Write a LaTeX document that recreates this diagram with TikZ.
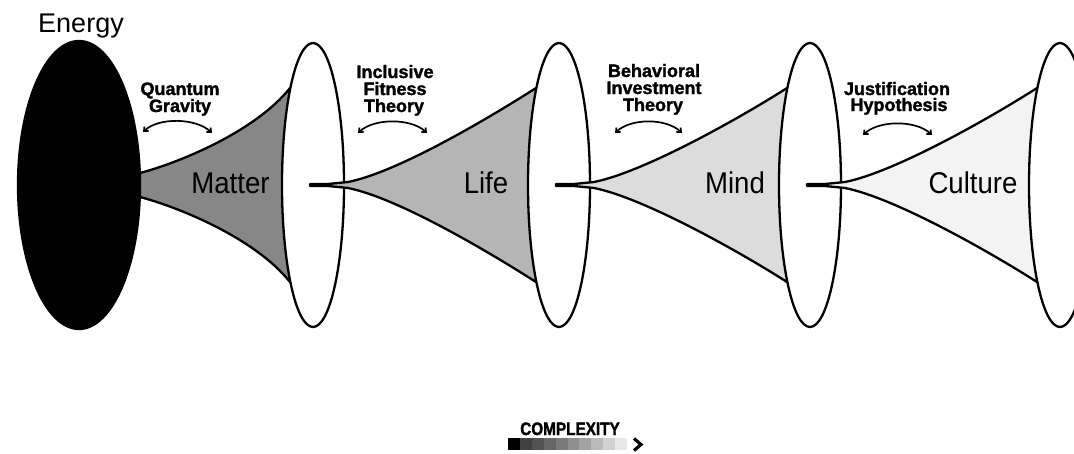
\documentclass[tikz,border=0pt]{standalone}
\usepackage{fontspec}
\setmainfont{Liberation Sans}
\newfontfamily\bigfont[FakeStretch=0.92]{Liberation Sans}
\newfontfamily\heavyfont[FakeBold=1.6]{Liberation Sans}
\newfontfamily\condfont[FakeStretch=0.85,FakeBold=1.6]{Liberation Sans}
\usetikzlibrary{arrows.meta}
\definecolor{matterc}{HTML}{878787}
\definecolor{lifec}{HTML}{B5B5B5}
\definecolor{mindc}{HTML}{DCDCDC}
\definecolor{culturec}{HTML}{F3F3F3}
\newcommand\hornshape[3]{%
  \filldraw[outl, fill=#3] ({#1-3},184) -- ({#1+15},184) -- ({#1+35},182)
    .. controls ({#1+85},172) and ({#2-70},118) .. ({#2-23},88)
    -- ({#2-23},282)
    .. controls ({#2-70},252) and ({#1+85},198) .. ({#1+35},188)
    -- ({#1+15},186) -- ({#1-3},186) -- cycle;}
\newcommand\mouth[1]{%
  \filldraw[outl, fill=white] (#1,185) ellipse [x radius=31pt, y radius=142pt];}
\begin{document}
\begin{tikzpicture}[x=1pt,y=-1pt,
  outl/.style={line width=2.3pt, line join=round},
  big/.style={font=\bigfont\fontsize{30}{30}\selectfont, anchor=base, inner sep=0pt},
  small/.style={font=\heavyfont\bfseries\fontsize{18}{18}\selectfont, anchor=base, inner sep=0pt},
  swing/.style={line width=1.7pt, {Straight Barb[length=3.5pt,width=6pt]}-{Straight Barb[length=3.5pt,width=6pt]}},
]
\useasboundingbox (0,0) rectangle (1074,453);
\clip (0,0) rectangle (1074,453);

% horn 1 (Matter) from Energy
\filldraw[outl, fill=matterc] (120,173) -- (140,173)
  .. controls (178,163) and (255,132) .. (290,88)
  -- (290,282)
  .. controls (255,238) and (178,207) .. (140,197) -- (120,197) -- cycle;
% Energy
\filldraw[outl, fill=black] (79,185) ellipse [x radius=61pt, y radius=144pt];
\mouth{313}
\hornshape{313}{559}{lifec}
\mouth{559}
\hornshape{559}{810}{mindc}
\mouth{810}
\hornshape{810}{1060}{culturec}
\mouth{1060}

% big labels
\node[font=\fontsize{27}{27}\selectfont, anchor=base, inner sep=0pt] (energy) at (81,32) {Energy};
\node[big] (matter) at (230.5,193) {Matter};
\node[big] (life) at (486,193) {Life};
\node[big] (mind) at (735,193) {Mind};
\node[big] (culture) at (973,193) {Culture};

% small labels
\node[small] (qg1) at (180,95) {Quantum};
\node[small] (qg2) at (180,112) {Gravity};
\node[small] (if1) at (395,78) {Inclusive};
\node[small] (if2) at (395,95) {Fitness};
\node[small] (if3) at (394,112) {Theory};
\node[small] (bi1) at (654,77) {Behavioral};
\node[small] (bi2) at (654,94) {Investment};
\node[small] (bi3) at (653,111) {Theory};
\node[small] (jh1) at (897,95) {Justification};
\node[small] (jh2) at (899,111) {Hypothesis};

% swing arrows
\coordinate (qgL) at (143,132); \coordinate (qgR) at (212,133);
\coordinate (ifL) at (358,133); \coordinate (ifR) at (427,133);
\coordinate (biL) at (615,133); \coordinate (biR) at (682,133);
\coordinate (jhL) at (863,135); \coordinate (jhR) at (932,135);
\draw[swing] (qgL) .. controls +(16,-15) and +(-16,-15) .. (qgR);
\draw[swing] (ifL) .. controls +(16,-15) and +(-16,-15) .. (ifR);
\draw[swing] (biL) .. controls +(16,-15) and +(-16,-15) .. (biR);
\draw[swing] (jhL) .. controls +(16,-15) and +(-16,-15) .. (jhR);

% complexity scale
\node[font=\condfont\bfseries\fontsize{18}{18}\selectfont, anchor=base, inner sep=0pt] (cx) at (570,435) {COMPLEXITY};
\foreach \i/\g in {0/100,1/75,2/68,3/60,4/52,5/44,6/36,7/27,8/18,9/9}
  \fill[black!\g] ({508+\i*11.9},438) rectangle ({508+(\i+1)*11.9+0.3},450);
\coordinate (chA) at (634,438.5);
\coordinate (chB) at (641,444.5);
\coordinate (chC) at (634,450.5);
\draw[line width=3.2pt] (chA) -- (chB) -- (chC);
\end{tikzpicture}
\end{document}
